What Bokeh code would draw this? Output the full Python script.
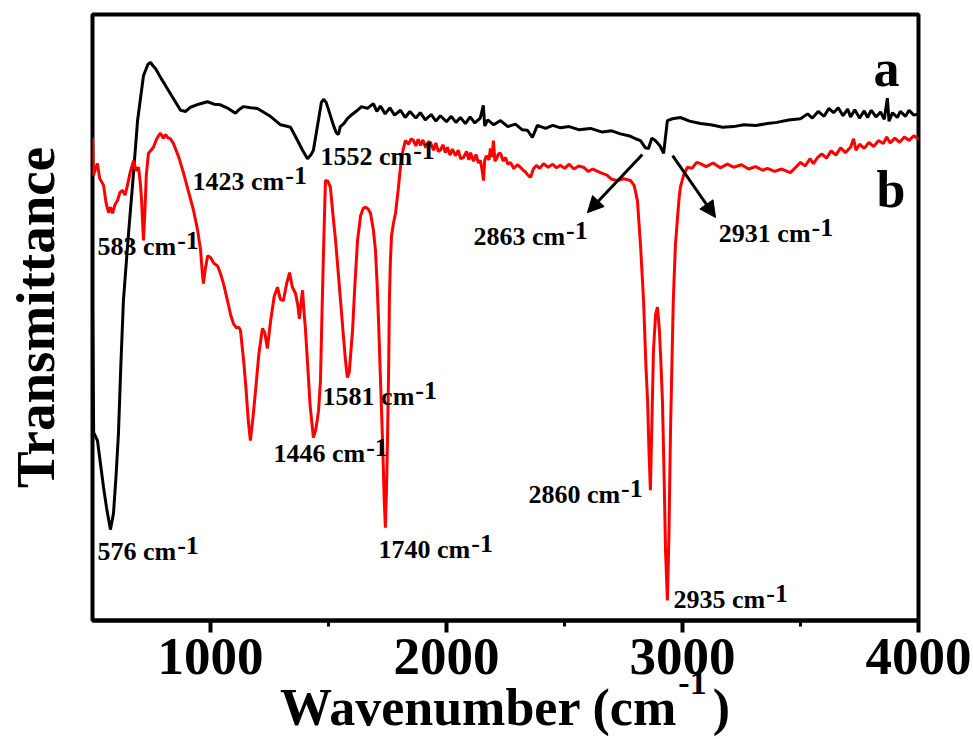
from bokeh.plotting import figure
from bokeh.models import Label, Arrow, NormalHead, Range1d, FixedTicker, LinearAxis
from bokeh.embed import file_html
from bokeh.resources import INLINE

# ---------------- data ----------------
# curve a (black)
wn_a = [500, 505, 521, 547, 560, 576, 589, 600, 610, 620, 631, 645, 655, 669, 680, 691,
        716, 735, 746, 757, 767, 790, 809, 840, 873, 895, 915, 950, 987, 1015, 1042,
        1075, 1106, 1120, 1140, 1170, 1199, 1250, 1297, 1320, 1339, 1365, 1390, 1411,
        1425, 1436, 1455, 1470, 1479, 1490, 1500, 1521, 1533, 1542, 1550, 1565, 1580,
        1600, 1623, 1640, 1665, 1690, 1705, 1720, 1740, 1760, 1780, 1805, 1825, 1845,
        1870, 1889, 1910, 1935, 1955, 1974, 2000, 2020, 2040, 2059, 2080, 2100, 2120,
        2143, 2156, 2162, 2175, 2200, 2229, 2260, 2292, 2320, 2343, 2364, 2385, 2420,
        2450, 2483, 2520, 2560, 2610, 2660, 2700, 2737, 2780, 2801, 2822, 2843, 2856,
        2870, 2885, 2905, 2920, 2936, 2957, 2991, 3030, 3076, 3120, 3170, 3216, 3260,
        3310, 3360, 3400, 3450, 3500, 3530, 3550, 3575, 3600, 3620, 3640, 3660, 3680,
        3700, 3712, 3730, 3750, 3770, 3784, 3800, 3820, 3839, 3855, 3868, 3875, 3890,
        3910, 3923, 3945, 3960, 3980, 4000]
tr_a = [52.0, 31.0, 29.7, 21.9, 18.5, 15.0, 17.7, 24.0, 30.9, 42.0, 52.8, 60.0, 65.0,
        71.5, 77.0, 82.5, 89.9, 91.8, 92.1, 91.5, 91.1, 89.5, 88.3, 86.3, 84.2, 84.0,
        84.7, 85.2, 85.6, 85.2, 85.1, 84.5, 83.7, 84.3, 84.8, 84.6, 84.5, 83.3, 81.8,
        81.6, 81.4, 79.5, 77.6, 76.2, 76.8, 77.6, 82.0, 85.5, 86.0, 85.5, 84.3, 81.7,
        80.5, 80.2, 81.5, 82.0, 82.8, 83.5, 84.2, 84.8, 84.5, 85.3, 84.0, 84.9, 83.6,
        84.6, 83.4, 84.2, 83.0, 84.0, 82.9, 83.8, 82.6, 83.5, 82.4, 83.3, 82.3, 83.2,
        82.2, 83.0, 82.0, 83.1, 82.1, 82.9, 85.0, 81.6, 82.6, 81.8, 82.5, 81.5, 81.9,
        81.0, 80.9, 79.7, 81.7, 81.2, 81.7, 81.3, 81.5, 81.0, 81.2, 80.6, 80.8, 80.3,
        79.9, 79.5, 79.2, 78.0, 77.9, 79.6, 79.2, 78.3, 77.1, 82.5, 82.8, 83.0, 82.4,
        82.0, 81.8, 81.4, 81.5, 81.8, 81.7, 82.0, 82.2, 82.6, 82.8, 83.6, 82.9, 84.0,
        83.2, 84.5, 83.8, 84.6, 83.3, 84.4, 83.1, 84.3, 82.9, 84.1, 83.0, 84.2, 83.1,
        83.9, 82.7, 86.2, 82.4, 83.8, 83.0, 84.0, 83.2, 84.2, 83.4, 83.6]

# curve b (red)
wn_b = [500, 504, 512, 521, 530, 547, 557, 568, 576, 585, 595, 606, 616, 627, 638, 648,
        660, 674, 685, 695, 703, 708, 716, 722, 728, 737, 748, 758, 770, 780, 788, 800,
        810, 818, 830, 843, 865, 886, 908, 928, 945, 958, 965, 970, 978, 988, 1000, 1015,
        1030, 1042, 1055, 1072, 1085, 1097, 1110, 1120, 1127, 1140, 1150, 1160, 1169,
        1180, 1191, 1205, 1220, 1230, 1241, 1255, 1270, 1284, 1296, 1309, 1322, 1335,
        1347, 1360, 1370, 1377, 1384, 1390, 1396, 1402, 1412, 1422, 1436, 1446, 1452,
        1458, 1466, 1472, 1479, 1487, 1497, 1508, 1520, 1530, 1540, 1551, 1562, 1572,
        1580, 1588, 1602, 1612, 1623, 1636, 1647, 1657, 1668, 1678, 1690, 1699, 1706,
        1712, 1720, 1729, 1736, 1741, 1746, 1750, 1755, 1758, 1762, 1767, 1775, 1784,
        1795, 1805, 1815, 1826, 1840, 1850, 1860, 1870, 1880, 1890, 1900, 1912, 1922,
        1932, 1945, 1955, 1965, 1974, 1985, 1995, 2004, 2015, 2025, 2038, 2050, 2060,
        2072, 2085, 2095, 2102, 2115, 2125, 2135, 2144, 2152, 2157, 2162, 2169, 2180,
        2186, 2193, 2199, 2205, 2212, 2220, 2229, 2240, 2250, 2260, 2271, 2285, 2300,
        2313, 2325, 2335, 2345, 2356, 2368, 2381, 2395, 2411, 2430, 2450, 2465, 2483,
        2500, 2520, 2540, 2560, 2580, 2600, 2620, 2652, 2680, 2700, 2724, 2750, 2780,
        2795, 2809, 2822, 2835, 2845, 2852, 2858, 2864, 2870, 2877, 2886, 2894, 2902,
        2908, 2915, 2922, 2928, 2936, 2943, 2949, 2955, 2961, 2970, 2978, 2985, 2991,
        3005, 3021, 3040, 3060, 3076, 3100, 3130, 3160, 3190, 3216, 3250, 3280, 3310,
        3340, 3360, 3390, 3420, 3457, 3480, 3500, 3520, 3540, 3555, 3572, 3590, 3610,
        3630, 3650, 3670, 3690, 3712, 3725, 3735, 3750, 3770, 3790, 3810, 3830, 3851,
        3865, 3880, 3900, 3920, 3940, 3960, 3980, 4000]
tr_b = [79.7, 73.4, 74.5, 75.4, 73.0, 71.8, 69.0, 67.3, 68.2, 67.2, 68.6, 69.3, 70.6,
        71.0, 70.2, 71.8, 74.0, 75.9, 74.2, 74.8, 72.0, 69.3, 62.7, 67.5, 73.5, 77.1,
        77.6, 78.1, 79.3, 80.0, 80.4, 79.6, 80.2, 79.7, 79.5, 78.7, 76.5, 73.8, 70.6,
        67.7, 64.5, 61.1, 57.5, 55.6, 58.0, 60.2, 59.9, 58.9, 58.5, 57.3, 55.6, 52.8,
        50.5, 49.0, 48.3, 48.4, 47.9, 43.0, 38.5, 33.0, 29.7, 33.5, 38.0, 44.0, 48.2,
        47.5, 44.9, 49.5, 53.5, 55.0, 53.0, 52.8, 55.5, 57.4, 55.0, 54.0, 52.0, 49.8,
        52.5, 54.5, 51.0, 48.3, 42.0, 35.5, 30.2, 31.5, 33.0, 34.7, 39.6, 50.0, 61.1,
        72.6, 72.5, 71.5, 66.5, 62.7, 58.0, 52.8, 47.5, 42.9, 40.1, 41.0, 47.9, 55.5,
        62.7, 66.8, 68.0, 68.2, 67.9, 67.2, 64.5, 61.1, 55.5, 49.5, 40.0, 29.7, 20.0,
        15.3, 22.0, 29.7, 42.0, 52.8, 59.0, 63.5, 65.5, 67.2, 71.0, 74.8, 77.5, 79.2,
        78.6, 79.5, 79.2, 78.3, 79.4, 78.4, 79.3, 78.0, 79.0, 78.9, 77.6, 78.8, 77.4,
        77.6, 78.5, 77.2, 78.1, 76.8, 77.8, 76.7, 77.6, 76.2, 76.4, 77.4, 76.0, 77.2,
        75.8, 76.9, 75.5, 75.9, 74.0, 72.6, 76.0, 76.7, 76.0, 77.9, 76.5, 79.2, 75.8,
        76.2, 77.0, 77.1, 75.8, 76.4, 75.3, 75.6, 74.6, 75.2, 74.8, 74.3, 74.0, 73.5,
        73.1, 74.5, 75.1, 74.6, 75.4, 74.8, 75.3, 74.7, 75.1, 74.6, 75.3, 74.5, 75.0,
        74.8, 74.1, 74.5, 73.9, 73.5, 72.8, 72.6, 72.9, 72.6, 71.8, 69.3, 62.0, 52.8,
        42.0, 36.3, 28.0, 21.5, 32.0, 44.6, 50.5, 51.7, 48.0, 43.0, 36.3, 24.0, 11.6,
        3.3, 15.0, 30.9, 42.0, 52.8, 62.0, 66.0, 69.5, 71.5, 73.5, 74.8, 74.6, 75.6,
        75.4, 74.9, 75.5, 74.7, 75.3, 74.8, 75.2, 74.5, 74.9, 74.3, 74.6, 74.1, 74.5,
        73.9, 74.8, 75.6, 75.0, 76.2, 75.4, 76.4, 77.0, 76.3, 77.5, 76.8, 78.0, 77.2,
        78.1, 79.5, 77.6, 78.6, 77.9, 78.9, 78.2, 79.2, 78.7, 79.8, 78.8, 79.6, 78.9,
        79.8, 79.2, 80.0, 79.4]

x_ticks = [1000, 2000, 3000, 4000]
x_minor_ticks = [1500, 2500, 3500]

peak_texts = ["576 cm", "583 cm", "1423 cm", "1552 cm", "1446 cm", "1581 cm",
              "1740 cm", "2860 cm", "2935 cm", "2863 cm", "2931 cm"]
# label anchor positions (layout, in data units: left edge, text baseline)
peak_lx = [521, 521, 924, 1466, 1267, 1475, 1712, 2347, 2962, 2114, 3154]
peak_ly = [9.9, 60.2, 71.0, 75.1, 26.1, 35.5, 10.2, 19.3, 2.0, 61.9, 62.4]

FONT = "Liberation Serif"
CW = {"0": .5, "1": .5, "2": .5, "3": .5, "4": .5, "5": .5, "6": .5, "7": .5,
      "8": .5, "9": .5, " ": .25, "c": .444, "m": .833, "-": .333}


def tw(s, size):
    return sum(CW.get(ch, .5) for ch in s) * size


p = figure(frame_width=826, frame_height=606,
           min_border_left=92, min_border_right=55, min_border_top=14, min_border_bottom=117,
           x_range=Range1d(500, 4000), y_range=Range1d(0, 100),
           output_backend="svg", toolbar_location=None)
p.background_fill_color = "white"
p.border_fill_color = "white"
p.outline_line_color = "black"
p.outline_line_width = 4
p.grid.visible = False

# main x axis: ticks and tick labels
ax = p.xaxis[0]
ax.ticker = FixedTicker(ticks=x_ticks, minor_ticks=x_minor_ticks)
ax.axis_line_width = 4
ax.axis_line_color = "black"
ax.major_tick_line_width = 4
ax.major_tick_out = 12
ax.major_tick_in = 0
ax.minor_tick_line_width = 3
ax.minor_tick_out = 6
ax.minor_tick_in = 0
ax.major_label_text_font = FONT
ax.major_label_text_font_style = "bold"
ax.major_label_text_font_size = "53px"
ax.major_label_text_color = "black"
ax.major_label_standoff = 6


def title_axis(label, size, standoff):
    a = LinearAxis(ticker=FixedTicker(ticks=[]), axis_line_color=None,
                   major_tick_line_color=None, minor_tick_line_color=None,
                   axis_label=label, axis_label_text_font=FONT,
                   axis_label_text_font_style="bold",
                   axis_label_text_font_size=f"{size}px",
                   axis_label_text_color="black", axis_label_standoff=standoff)
    return a


EM = "\u2003"
p.add_layout(title_axis(EM * 11 + "-1", 34, -13), "below")
p.add_layout(title_axis("Wavenumber (cm\u2002\u2009)", 52, -25), "below")

# y axis: title only
ya = p.yaxis[0]
ya.ticker = FixedTicker(ticks=[])
ya.axis_line_color = None
ya.major_tick_line_color = None
ya.minor_tick_line_color = None
ya.axis_label = "Transmittance"
ya.axis_label_text_font = FONT
ya.axis_label_text_font_style = "bold"
ya.axis_label_text_font_size = "55px"
ya.axis_label_text_color = "black"
ya.axis_label_standoff = 27

p.line(wn_a, tr_a, line_color="black", line_width=3)
p.line(wn_b, tr_b, line_color="#ff0000", line_width=3)


def lab(x, y, text, size, rise=0, **kw):
    p.add_layout(Label(x=x, y=y, text=text, text_font=FONT, text_font_style="bold",
                       text_font_size=f"{size}px", text_color="black",
                       text_baseline="bottom", y_offset=rise - 0.216 * size, **kw))


for t, lx, ly in zip(peak_texts, peak_lx, peak_ly):
    lab(lx, ly, t, 26, text_align="left")
    lab(lx, ly, "-1", 26, rise=12, text_align="left", x_offset=tw(t, 26) + 1)

# curve names
lab(3809, 88.3, "a", 52, text_align="left")
lab(3822, 68.2, "b", 52, text_align="left")

# arrows
head = dict(size=16, fill_color="black", line_color="black")
p.add_layout(Arrow(end=NormalHead(**head), x_start=2830, y_start=76.9, x_end=2597, y_end=67.3,
                   line_width=3, line_color="black"))
p.add_layout(Arrow(end=NormalHead(**head), x_start=2958, y_start=76.7, x_end=3140, y_end=66.5,
                   line_width=3, line_color="black"))

open("out.html", "w").write(file_html(p, INLINE))
